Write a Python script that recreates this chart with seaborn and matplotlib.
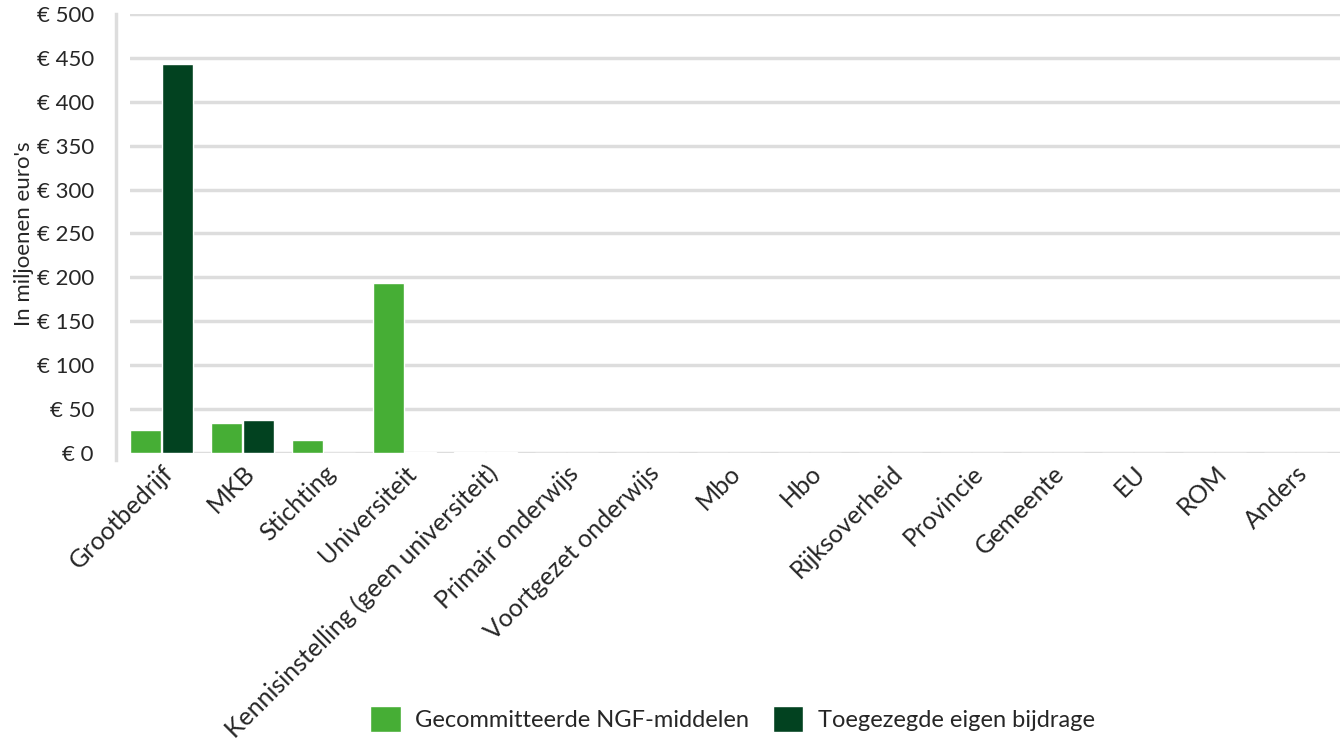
import pandas as pd
import matplotlib
matplotlib.use("Agg")
import matplotlib.pyplot as plt
import seaborn as sns
from matplotlib.patches import Patch

categories = ["Grootbedrijf", "MKB", "Stichting", "Universiteit",
              "Kennisinstelling (geen universiteit)", "Primair onderwijs",
              "Voortgezet onderwijs", "Mbo", "Hbo", "Rijksoverheid",
              "Provincie", "Gemeente", "EU", "ROM", "Anders"]
ngf_middelen = [26, 34, 15, 194, 1, 0, 0, 0, 0, 0, 0, 0, 0, 0, 0]
eigen_bijdrage = [443, 38, 0, 1, 1, 0, 0, 0, 0, 0, 0, 0, 0, 0, 0]
series_names = ["Gecommitteerde NGF-middelen", "Toegezegde eigen bijdrage"]
colors = ["#46ae35", "#024220"]
yticks = list(range(0, 501, 50))

df = pd.DataFrame({
    "categorie": categories * 2,
    "waarde": ngf_middelen + eigen_bijdrage,
    "serie": [series_names[0]] * len(categories) + [series_names[1]] * len(categories),
})

sns.set_style("white")
plt.rcParams["font.family"] = ["Lato", "DejaVu Sans"]

fig = plt.figure(figsize=(13.44, 7.4), dpi=100)
ax = fig.add_axes([130 / 1344, 1 - 453 / 740, 1 - 130 / 1344 - 4 / 1344, (453 - 14) / 740])

sns.barplot(data=df, x="categorie", y="waarde", hue="serie", palette=colors,
            width=0.8, gap=0.05, saturation=1, legend=False, ax=ax)

ax.set_ylim(0, 500)
ax.set_xlim(-0.39, len(categories) - 0.45)
ax.set_yticks(yticks)
ax.set_yticklabels([f"€ {v}" for v in yticks])
ax.yaxis.grid(True, color="#dddddd", linewidth=2.5)
ax.set_axisbelow(True)
ax.tick_params(axis="y", length=0, pad=16, labelsize=16)
ax.tick_params(axis="x", length=0, pad=6, labelsize=18)
plt.setp(ax.get_xticklabels(), rotation=45, ha="right", rotation_mode="anchor")

ax.set_xlabel("")
ax.set_ylabel("In miljoenen euro's", fontsize=16, labelpad=2)

for side in ["top", "right", "bottom"]:
    ax.spines[side].set_visible(False)
ax.spines["left"].set_color("#dddddd")
ax.spines["left"].set_linewidth(2.5)
ax.spines["left"].set_position(("outward", 10))
ax.spines["left"].set_bounds(-8, 500)

handles = [Patch(facecolor=c, label=n) for c, n in zip(colors, series_names)]
fig.legend(handles=handles, loc="lower center", ncol=2, frameon=False,
           fontsize=17, handlelength=1.3, handleheight=1.3, handletextpad=0.6,
           columnspacing=1.0, bbox_to_anchor=(0.545, -0.018))

fig.savefig("out.png", dpi=100)
